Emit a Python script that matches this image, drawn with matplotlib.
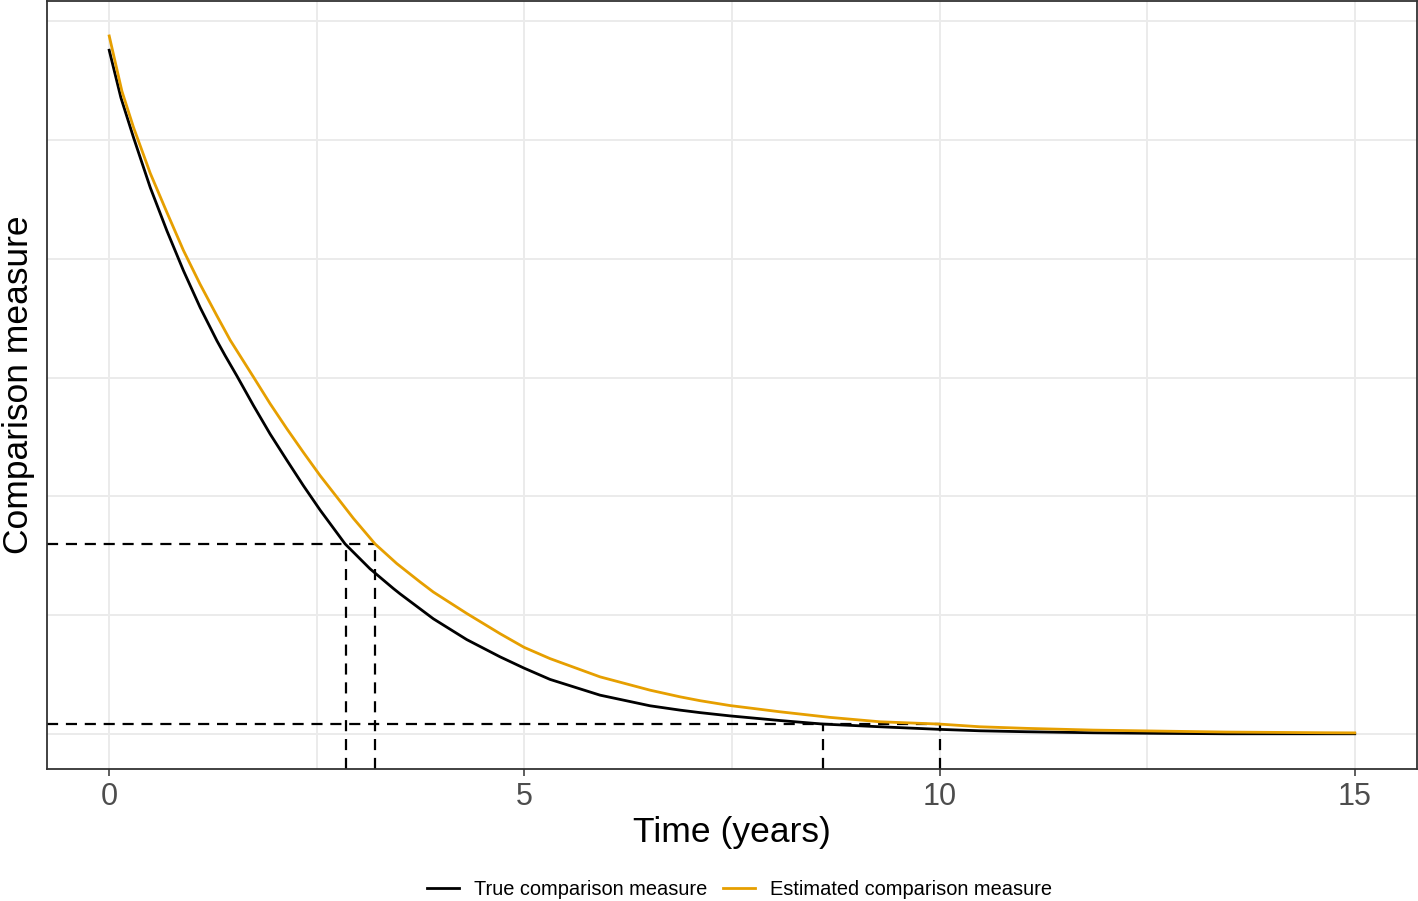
import matplotlib
matplotlib.use("Agg")
import matplotlib.pyplot as plt
import numpy as np

plt.rcParams['font.family'] = ['Liberation Sans', 'DejaVu Sans']

# values (y axis has no labels, arbitrary units)
true_x = [0, 0.141, 0.293, 0.494, 0.695, 0.894, 1.095, 1.297, 1.396, 1.537, 1.737,
          1.938, 2.139, 2.339, 2.540, 2.841, 3.142, 3.422, 3.503, 3.904, 4.306,
          4.707, 4.996, 5.309, 5.911, 6.513, 6.874, 7.115, 7.476, 8.078, 8.599,
          9.281, 10.004, 10.485, 11.047, 11.849, 12.652, 13.455, 15.0]
true_y = [1.151, 1.071, 1.004, 0.920, 0.847, 0.780, 0.718, 0.662, 0.637, 0.603, 0.553,
          0.505, 0.461, 0.418, 0.377, 0.320, 0.278, 0.245, 0.236, 0.194, 0.159,
          0.130, 0.111, 0.092, 0.0655, 0.0476, 0.0403, 0.0361, 0.0306, 0.0228, 0.0168,
          0.0123, 0.0079, 0.0055, 0.0039, 0.0022, 0.0012, 0.0005, 0.0005]

est_x = [0, 0.153, 0.293, 0.494, 0.695, 0.894, 1.095, 1.297, 1.457, 1.737, 1.938,
         2.139, 2.339, 2.540, 2.741, 2.941, 3.202, 3.463, 3.744, 3.904, 4.306,
         4.707, 4.996, 5.309, 5.911, 6.513, 6.874, 7.115, 7.476, 8.078, 8.679,
         9.281, 10.0, 10.485, 11.047, 11.849, 12.652, 13.455, 14.659, 15.0]
est_y = [1.175, 1.082, 1.021, 0.944, 0.878, 0.814, 0.757, 0.704, 0.663, 0.601, 0.556,
         0.514, 0.474, 0.435, 0.399, 0.363, 0.320, 0.287, 0.256, 0.239, 0.203,
         0.169, 0.146, 0.127, 0.0963, 0.0739, 0.0627, 0.0562, 0.0480, 0.0375, 0.0281,
         0.0207, 0.0168, 0.0123, 0.0096, 0.0067, 0.0050, 0.0034, 0.0022, 0.0020]

# threshold levels and crossing times
levels = [0.320, 0.0168]
cross_true = [2.853, 8.595]
cross_est = [3.202, 10.0]

x_major = [0, 5, 10, 15]
x_minor = [2.5, 7.5, 12.5]
y_grid = [0, 0.2, 0.4, 0.6, 0.8, 1.0, 1.2]

fig = plt.figure(figsize=(14.18, 9.01), dpi=100)
ax = fig.add_axes([0.0331, 0.1465, 0.9662, 0.8525])

xmin, xmax = -0.75, 15.75
ymin, ymax = -0.0588, 1.234
ax.set_xlim(xmin, xmax)
ax.set_ylim(ymin, ymax)

ax.set_xticks(x_major)
ax.set_xticks(x_minor, minor=True)
ax.set_yticks(y_grid)
ax.set_yticklabels([])
ax.grid(True, which='both', color='#EBEBEB', linewidth=1.4)
ax.set_axisbelow(True)
ax.tick_params(axis='y', length=0)
ax.tick_params(axis='x', which='major', length=5, width=1.1, color='#333333',
               labelsize=22, labelcolor='#4D4D4D', pad=4)
ax.tick_params(axis='x', which='minor', length=0)
for s in ax.spines.values():
    s.set_color('#333333')
    s.set_linewidth(1.3)

dash = dict(color='black', linewidth=1.6, linestyle=(0, (5, 3.5)), zorder=2)
for lev, xt, xe in zip(levels, cross_true, cross_est):
    ax.plot([xmin, xe], [lev, lev], **dash)
    ax.plot([xt, xt], [ymin, lev], **dash)
    ax.plot([xe, xe], [ymin, lev], **dash)

ax.plot(true_x, true_y, color='black', linewidth=2.0, label='True comparison measure',
        zorder=3, solid_joinstyle='round')
ax.plot(est_x, est_y, color='#E69F00', linewidth=2.0, label='Estimated comparison measure',
        zorder=3, solid_joinstyle='round')

ax.set_xlabel('Time (years)', fontsize=25.5, labelpad=3)
ax.set_ylabel('Comparison measure', fontsize=25.5, labelpad=5)

fig.legend(loc='center', bbox_to_anchor=(0.5215, 0.0133), ncol=2, frameon=False,
           fontsize=14.4, handlelength=1.6, columnspacing=0.75, handletextpad=0.75,
           borderpad=0, borderaxespad=0)

fig.savefig('out.png', dpi=100)
